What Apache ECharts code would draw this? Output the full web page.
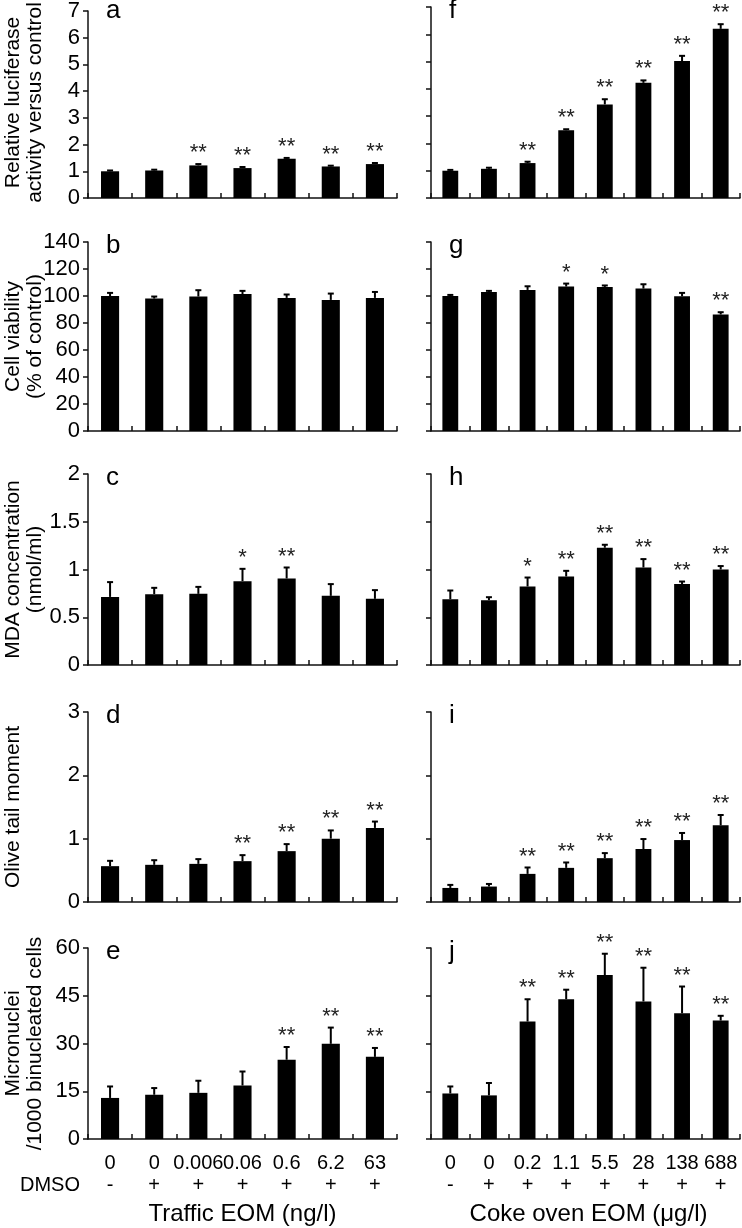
<!DOCTYPE html>
<html><head><meta charset="utf-8">
<script src="https://cdn.jsdelivr.net/npm/echarts@6/dist/echarts.min.js"></script>
<style>html,body{margin:0;padding:0;background:#fff}#c{width:742px;height:1228px}</style>
</head><body><div id="c"></div>
<script>
// ---- categories / tick labels ----
const trafficDoses = ['0', '0', '0.006', '0.06', '0.6', '6.2', '63'];
const cokeDoses = ['0', '0', '0.2', '1.1', '5.5', '28', '138', '688'];
const trafficDmso = ['-', '+', '+', '+', '+', '+', '+'];
const cokeDmso = ['-', '+', '+', '+', '+', '+', '+', '+'];

// ---- (a) / (f) relative luciferase activity ----
const luciferaseTraffic = [1.00, 1.03, 1.22, 1.12, 1.47, 1.18, 1.27];
const luciferaseTrafficErr = [0.03, 0.03, 0.05, 0.04, 0.03, 0.03, 0.04];
const luciferaseTrafficSig = ['', '', '**', '**', '**', '**', '**'];
const luciferaseCoke = [1.00, 1.07, 1.28, 2.48, 3.43, 4.22, 5.02, 6.20];
const luciferaseCokeErr = [0.03, 0.04, 0.05, 0.04, 0.19, 0.09, 0.19, 0.17];
const luciferaseCokeSig = ['', '', '**', '**', '**', '**', '**', '**'];

// ---- (b) / (g) cell viability ----
const viabilityTraffic = [100.0, 98.1, 99.6, 101.5, 98.6, 97.1, 98.6];
const viabilityTrafficErr = [2.3, 1.5, 4.7, 2.3, 2.5, 4.7, 4.4];
const viabilityTrafficSig = ['', '', '', '', '', '', ''];
const viabilityCoke = [100.0, 103.0, 104.5, 107.0, 106.7, 105.5, 99.8, 86.3];
const viabilityCokeErr = [0.8, 0.8, 2.7, 2.2, 1.1, 3.2, 2.5, 1.7];
const viabilityCokeSig = ['', '', '', '*', '*', '', '', '**'];

// ---- (c) / (h) MDA concentration ----
const mdaTraffic = [0.713, 0.742, 0.745, 0.878, 0.906, 0.724, 0.693];
const mdaTrafficErr = [0.155, 0.066, 0.073, 0.129, 0.115, 0.123, 0.091];
const mdaTrafficSig = ['', '', '', '*', '**', '', ''];
const mdaCoke = [0.689, 0.679, 0.822, 0.927, 1.228, 1.021, 0.847, 1.000];
const mdaCokeErr = [0.091, 0.031, 0.094, 0.059, 0.031, 0.088, 0.027, 0.036];
const mdaCokeSig = ['', '', '*', '**', '**', '**', '**', '**'];

// ---- (d) / (i) olive tail moment ----
const tailTraffic = [0.566, 0.587, 0.602, 0.645, 0.803, 1.000, 1.170];
const tailTrafficErr = [0.084, 0.073, 0.075, 0.095, 0.111, 0.130, 0.100];
const tailTrafficSig = ['', '', '', '**', '**', '**', '**'];
const tailCoke = [0.222, 0.244, 0.444, 0.539, 0.692, 0.835, 0.978, 1.210];
const tailCokeErr = [0.048, 0.041, 0.101, 0.085, 0.080, 0.159, 0.112, 0.164];
const tailCokeSig = ['', '', '**', '**', '**', '**', '**', '**'];

// ---- (e) / (j) micronuclei ----
const micronucleiTraffic = [12.9, 13.9, 14.5, 16.8, 24.9, 29.9, 25.8];
const micronucleiTrafficErr = [3.6, 2.1, 3.8, 4.4, 4.0, 5.1, 2.8];
const micronucleiTrafficSig = ['', '', '', '', '**', '**', '**'];
const micronucleiCoke = [14.3, 13.7, 36.9, 43.9, 51.5, 43.2, 39.5, 37.2];
const micronucleiCokeErr = [2.2, 3.9, 7.0, 3.0, 6.7, 10.6, 8.4, 1.5];
const micronucleiCokeSig = ['', '', '**', '**', '**', '**', '**', '**'];

// ---- axis ranges / titles ----
const yMax = [7, 140, 2, 3, 60];
const yInterval = [1, 20, 0.5, 1, 15];
const yTitles = [
  ['Relative luciferase', 'activity versus control'],
  ['Cell viability', '(% of control)'],
  ['MDA concentration', '(nmol/ml)'],
  ['Olive tail moment'],
  ['Micronuclei', '/1000 binucleated cells']
];
const panelLetters = [['a', 'b', 'c', 'd', 'e'], ['f', 'g', 'h', 'i', 'j']];
const xTitles = ['Traffic EOM (ng/l)', 'Coke oven EOM (\u03bcg/l)'];
const dmsoLabel = 'DMSO';

const leftData = [
  [luciferaseTraffic, luciferaseTrafficErr, luciferaseTrafficSig],
  [viabilityTraffic, viabilityTrafficErr, viabilityTrafficSig],
  [mdaTraffic, mdaTrafficErr, mdaTrafficSig],
  [tailTraffic, tailTrafficErr, tailTrafficSig],
  [micronucleiTraffic, micronucleiTrafficErr, micronucleiTrafficSig]
];
const rightData = [
  [luciferaseCoke, luciferaseCokeErr, luciferaseCokeSig],
  [viabilityCoke, viabilityCokeErr, viabilityCokeSig],
  [mdaCoke, mdaCokeErr, mdaCokeSig],
  [tailCoke, tailCokeErr, tailCokeSig],
  [micronucleiCoke, micronucleiCokeErr, micronucleiCokeSig]
];

// ---- layout ----
const FONT = '"Liberation Sans", Arial, Helvetica, sans-serif';
const colLeft = [88, 431];
const plotW = 309;
const rowTop = [7, 242, 474, 712, 948];
const rowH = [191, 189, 191, 190, 191];
const AX = '#111';

const chart = echarts.init(document.getElementById('c'), null, {renderer: 'canvas'});

const grid = [], xAxis = [], yAxis = [], series = [], graphic = [];

for (let col = 0; col < 2; col++) {
  const doses = col === 0 ? trafficDoses : cokeDoses;
  const dmso = col === 0 ? trafficDmso : cokeDmso;
  const dataSet = col === 0 ? leftData : rightData;
  for (let row = 0; row < 5; row++) {
    const k = grid.length;
    grid.push({left: colLeft[col], top: rowTop[row], width: plotW, height: rowH[row], containLabel: false});
    xAxis.push({
      gridIndex: k, type: 'category', data: doses,
      axisLine: {show: true, lineStyle: {color: AX, width: 1.5}},
      axisTick: {show: true, inside: true, length: 5, lineStyle: {color: AX, width: 1.5}},
      axisLabel: row === 4 ? {
        show: true, interval: 0, color: '#000', fontSize: 20, fontFamily: FONT,
        lineHeight: 22, margin: 13,
        formatter: (v, idx) => v + '\n' + dmso[idx]
      } : {show: false},
      splitLine: {show: false}
    });
    yAxis.push({
      gridIndex: k, type: 'value', min: 0, max: yMax[row], interval: yInterval[row],
      axisLine: {show: true, lineStyle: {color: AX, width: 1.5}},
      axisTick: {show: true, inside: false, length: 5, lineStyle: {color: AX, width: 1.5}},
      axisLabel: col === 0 ? {show: true, color: '#000', fontSize: 22, fontFamily: FONT, margin: 8} : {show: false},
      splitLine: {show: false}
    });
    const [vals, errs, sigs] = dataSet[row];
    series.push({
      type: 'bar', xAxisIndex: k, yAxisIndex: k, data: vals,
      barWidth: '41%', itemStyle: {color: '#000'}, silent: true
    });
    series.push({
      type: 'custom', xAxisIndex: k, yAxisIndex: k, clip: false, silent: true,
      data: vals.map((v, i) => [i, v + errs[i]]),
      encode: {x: 0, y: 1},
      renderItem: (params, api) => {
        const i = params.dataIndex;
        const p0 = api.coord([i, vals[i]]);
        const p1 = api.coord([i, vals[i] + errs[i]]);
        return {
          type: 'group',
          children: [
            {type: 'line', shape: {x1: p0[0], y1: p0[1], x2: p1[0], y2: p1[1]}, style: {stroke: '#000', lineWidth: 2}},
            {type: 'line', shape: {x1: p1[0] - 3, y1: p1[1], x2: p1[0] + 3, y2: p1[1]}, style: {stroke: '#000', lineWidth: 2}},
            {type: 'text', x: p1[0], y: p1[1] - 11, style: {text: sigs[i], align: 'center', verticalAlign: 'middle', fontSize: 22, fontFamily: FONT, fill: '#222'}}
          ]
        };
      }
    });
    graphic.push({
      type: 'text', x: colLeft[col] + 18, y: rowTop[row] + 4,
      style: {text: panelLetters[col][row], align: 'left', verticalAlign: 'middle', fontSize: 26, fontFamily: FONT, fill: '#000'}
    });
  }
}

// y-axis titles
for (let row = 0; row < 5; row++) {
  const lines = yTitles[row];
  const cy = rowTop[row] + rowH[row] / 2;
  graphic.push({
    type: 'text', x: lines.length === 2 ? 24 : 13, y: cy, rotation: Math.PI / 2,
    style: {text: lines.join('\n'), align: 'center', verticalAlign: 'middle', lineHeight: 22, fontSize: 21, fontFamily: FONT, fill: '#000'}
  });
}
// DMSO row label
graphic.push({
  type: 'text', x: 80, y: 1185,
  style: {text: dmsoLabel, align: 'right', verticalAlign: 'middle', fontSize: 20, fontFamily: FONT, fill: '#000'}
});
// x-axis titles
graphic.push({
  type: 'text', x: colLeft[0] + plotW / 2, y: 1214,
  style: {text: xTitles[0], align: 'center', verticalAlign: 'middle', fontSize: 24, fontFamily: FONT, fill: '#000'}
});
graphic.push({
  type: 'text', x: colLeft[1] + plotW / 2 + 3, y: 1214,
  style: {text: xTitles[1], align: 'center', verticalAlign: 'middle', fontSize: 24, fontFamily: FONT, fill: '#000'}
});

chart.setOption({
  backgroundColor: '#fff',
  animation: false,
  grid, xAxis, yAxis, series, graphic
});
</script>
</body></html>
